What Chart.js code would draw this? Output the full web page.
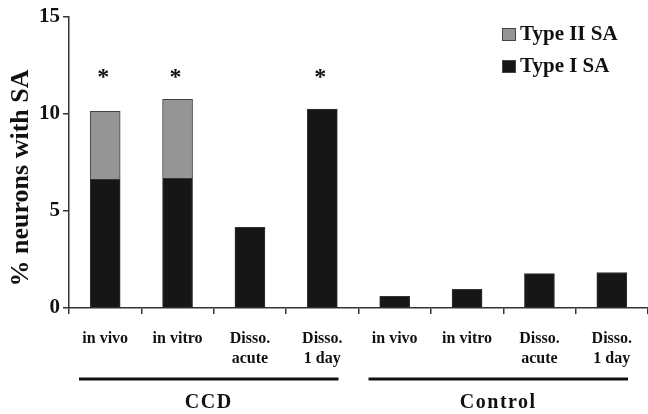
<!DOCTYPE html>
<html>
<head>
<meta charset="utf-8">
<script src="https://cdn.jsdelivr.net/npm/chart.js@4"></script>
<style>
  body { margin: 0; background: #fff; }
  #wrap { width: 648px; height: 414px; position: relative; }
</style>
</head>
<body>
<div id="wrap"><canvas id="chartSA"></canvas></div>
<script>
// categorias y valores
const etiquetas = [
  'in vivo', 'in vitro', ['Disso.', 'acute'], ['Disso.', '1 day'],
  'in vivo', 'in vitro', ['Disso.', 'acute'], ['Disso.', '1 day']
];
const tipoI  = [6.63, 6.69, 4.16, 10.25, 0.6, 0.96, 1.77, 1.83];
const tipoII = [3.51, 4.07, null, null, null, null, null, null];
const significativo = [true, true, false, true, false, false, false, false];
const grupos = ['CCD', 'Control'];
const tamGrupo = 4;
const yTicks = [0, 5, 10, 15];

const serif = '"Liberation Serif", "Times New Roman", serif';

const extras = {
  id: 'extras',
  afterDraw(chart) {
    const ctx = chart.ctx;
    const x = chart.scales.x;
    const y = chart.scales.y;
    ctx.save();
    ctx.fillStyle = '#111';
    ctx.strokeStyle = '#111';

    // titulo eje y
    ctx.save();
    ctx.translate(21, 178);
    ctx.rotate(-Math.PI / 2);
    ctx.font = 'bold 26px ' + serif;
    ctx.textAlign = 'center';
    ctx.textBaseline = 'middle';
    ctx.fillText('% neurons with SA', 0, 0);
    ctx.restore();

    // asteriscos
    ctx.font = 'bold 24px ' + serif;
    ctx.textAlign = 'center';
    ctx.textBaseline = 'middle';
    significativo.forEach((s, i) => {
      if (s) ctx.fillText('*', x.getPixelForValue(i) - 2, y.getPixelForValue(12.0) + 3);
    });

    // grupos
    const paso = x.getPixelForValue(1) - x.getPixelForValue(0);
    grupos.forEach((g, k) => {
      const ini = x.getPixelForValue(k * tamGrupo) - paso / 2 + 10;
      const fin = x.getPixelForValue((k + 1) * tamGrupo - 1) + paso / 2 - 20;
      ctx.lineWidth = 3;
      ctx.beginPath();
      ctx.moveTo(ini, 379);
      ctx.lineTo(fin, 379);
      ctx.stroke();
      ctx.font = 'bold 20px ' + serif;
      ctx.letterSpacing = '1.5px';
      ctx.textAlign = 'center';
      ctx.textBaseline = 'middle';
      ctx.fillText(g, (ini + fin) / 2, 403);
      ctx.letterSpacing = '0px';
    });

    // leyenda
    const items = [
      { txt: 'Type II SA', color: '#959595', yy: 34 },
      { txt: 'Type I SA', color: '#161616', yy: 66 }
    ];
    items.forEach(it => {
      ctx.fillStyle = it.color;
      ctx.fillRect(502, it.yy - 6, 14, 13);
      ctx.lineWidth = 1;
      ctx.strokeStyle = '#444';
      ctx.strokeRect(502.5, it.yy - 5.5, 13, 12);
      ctx.fillStyle = '#111';
      ctx.font = 'bold 21px ' + serif;
      ctx.textAlign = 'left';
      ctx.textBaseline = 'middle';
      ctx.fillText(it.txt, 520, it.yy + 1);
    });
    ctx.restore();
  }
};

const ctx = document.getElementById('chartSA').getContext('2d');
window.chartSA = new Chart(ctx, {
  type: 'bar',
  data: {
    labels: etiquetas,
    datasets: [
      {
        label: 'Type I SA',
        data: tipoI,
        backgroundColor: '#161616',
        borderColor: '#333',
        borderWidth: 1,
        barThickness: 30
      },
      {
        label: 'Type II SA',
        data: tipoII,
        backgroundColor: '#959595',
        borderColor: '#444',
        borderWidth: 1,
        barThickness: 30
      }
    ]
  },
  options: {
    responsive: true,
    maintainAspectRatio: false,
    animation: false,
    layout: { padding: { top: 17, right: 0, left: 0, bottom: 0 } },
    plugins: { legend: { display: false }, tooltip: { enabled: false } },
    scales: {
      x: {
        stacked: true,
        afterFit: s => { s.height = 106; },
        border: { color: '#333', width: 1.5 },
        grid: { drawOnChartArea: false, offset: true, tickLength: 6, color: '#333', lineWidth: 1.5 },
        ticks: {
          color: '#111',
          font: { family: serif, size: 16, weight: 'bold', lineHeight: 1.3 },
          padding: 14,
          maxRotation: 0,
          autoSkip: false
        }
      },
      y: {
        stacked: true,
        min: 0,
        max: 15,
        afterFit: s => { s.width = 69; },
        afterBuildTicks: s => { s.ticks = yTicks.map(v => ({ value: v })); },
        border: { color: '#333', width: 1.5 },
        grid: { drawOnChartArea: false, tickLength: 6, color: '#333', lineWidth: 1.5 },
        ticks: {
          color: '#111',
          font: { family: serif, size: 21, weight: 'bold' },
          padding: 3
        }
      }
    }
  },
  plugins: [extras]
});
</script>
</body>
</html>
